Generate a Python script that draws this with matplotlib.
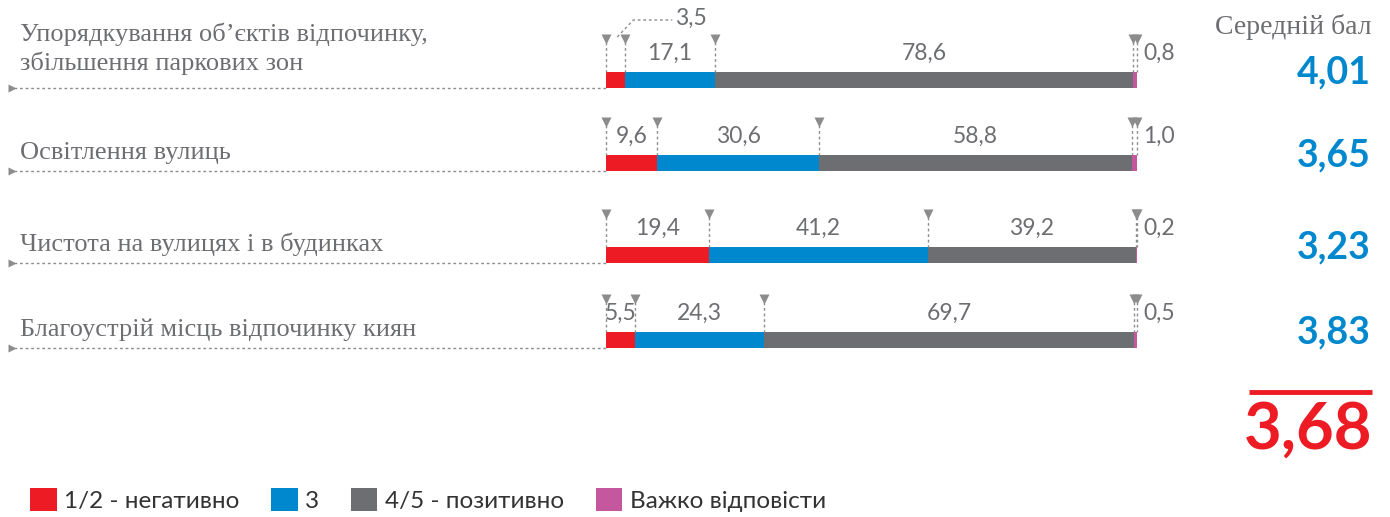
import matplotlib
matplotlib.use("Agg")
import matplotlib.pyplot as plt
from matplotlib.patches import Patch

# --- data ---
items = [
    "Упорядкування об’єктів відпочинку,\nзбільшення паркових зон",
    "Освітлення вулиць",
    "Чистота на вулицях і в будинках",
    "Благоустрій місць відпочинку киян",
]
negative = [3.5, 9.6, 19.4, 5.5]
neutral = [17.1, 30.6, 41.2, 24.3]
positive = [78.6, 58.8, 39.2, 69.7]
hard = [0.8, 1.0, 0.2, 0.5]
avg_scores = [4.01, 3.65, 3.23, 3.83]
overall_avg = 3.68

series_names = ["1/2 - негативно", "3", "4/5 - позитивно", "Важко відповісти"]
colors = ["#ED1C24", "#0088CF", "#6D6E71", "#C5579F"]

GREY = "#6D6E71"
DOT = "#8C8C8C"
W, H = 1390, 517
BAR_X0, BAR_W = 606, 531          # pixel span of 100 %
PX = BAR_W / 100.0                 # pixels per percent
row_y = [80, 163, 255, 340]        # bar centres (px from top)
bar_h = 16

num_font = "Lato"
serif = "Liberation Serif"


def fmt(v, nd=1):
    return f"{v:.{nd}f}".replace(".", ",")


fig = plt.figure(figsize=(W / 100, H / 100), dpi=100)

# overlay in pixel coordinates for the text columns
ov = fig.add_axes([0, 0, 1, 1])
ov.set_xlim(0, W)
ov.set_ylim(H, 0)
ov.axis("off")

# bar axes: x in percent, y in pixels
ax = fig.add_axes([BAR_X0 / W, 0, BAR_W / W, 1])
ax.set_xlim(0, 100)
ax.set_ylim(H, 0)
ax.axis("off")

series = [negative, neutral, positive, hard]

for i, y in enumerate(row_y):
    vals = [s[i] for s in series]
    left = 0
    edges = [0]
    for j, v in enumerate(vals):
        ax.barh(y, v, left=left, height=bar_h, color=colors[j], linewidth=0)
        left += v
        edges.append(left)

    top = y - bar_h / 2
    tri_y = top - 33
    # boundary markers
    for e in edges:
        ax.plot([e, e], [tri_y + 3, top], color=DOT, lw=1, ls=(0, (2, 2)),
                clip_on=False)
        ax.plot(e, tri_y, marker="v", ms=6.5, color=DOT, mec="none",
                clip_on=False)

    # segment labels
    lab_y = top - 19
    for j, v in enumerate(vals):
        mid = (edges[j] + edges[j + 1]) / 2
        if j == 3:
            ax.text(edges[-1] + 6 / PX, lab_y, fmt(v), ha="left", va="center",
                    fontsize=16.5, color=GREY, family=num_font, clip_on=False)
        elif v * PX < 25:
            # leader line for a narrow segment
            x0 = mid + 2 / PX
            x1 = mid + 18 / PX
            x2 = mid + 57 / PX
            ax.plot([x0, x1, x2], [tri_y - 2, tri_y - 19, tri_y - 19],
                    color=DOT, lw=1, ls=(0, (2, 2)), clip_on=False)
            ax.text(x2 + 3 / PX, tri_y - 21, fmt(v), ha="left", va="center",
                    fontsize=16.5, color=GREY, family=num_font, clip_on=False)
        else:
            ax.text(mid, lab_y, fmt(v), ha="center", va="center",
                    fontsize=16.5, color=GREY, family=num_font, clip_on=False)

    # item label and dotted guide line
    bottom = y + bar_h / 2
    lines = items[i].split("\n")
    for k, line in enumerate(reversed(lines)):
        base = bottom - 12 - (6 if len(lines) > 1 else 0) - k * 29
        ov.text(20, base, line, ha="left", va="baseline", fontsize=19,
                color=GREY, family=serif)
    ov.plot([14, BAR_X0], [bottom, bottom], color=DOT, lw=1, ls=(0, (2, 2)))
    ov.plot(12, bottom, marker=">", ms=6, color=DOT, mec="none")

    # average score
    ov.text(1371, y - 8, fmt(avg_scores[i], 2), ha="right", va="center",
            fontsize=27, fontweight="bold", color="#0088CF", family=num_font)

ov.text(1372, 27, "Середній бал", ha="right", va="center", fontsize=20,
        color=GREY, family=serif)

# overall average
ov.plot([1249, 1372], [392, 392], color="#ED1C24", lw=3.5, solid_capstyle="butt")
ov.text(1372, 430, fmt(overall_avg, 2), ha="right", va="center",
        fontsize=47, fontweight="bold", color="#ED1C24", family=num_font)

handles = [Patch(facecolor=c, edgecolor="none") for c in colors]
fig.legend(handles, series_names, loc="lower left",
           bbox_to_anchor=(30 / W, 5 / H), ncol=4, frameon=False,
           handlelength=1.1, handleheight=1.1,
           handletextpad=0.3, columnspacing=1.3, borderaxespad=0,
           borderpad=0, prop={"family": num_font, "size": 17.5})
for t in fig.legends[0].get_texts():
    t.set_color("#333333")

fig.savefig("out.png", dpi=100)
